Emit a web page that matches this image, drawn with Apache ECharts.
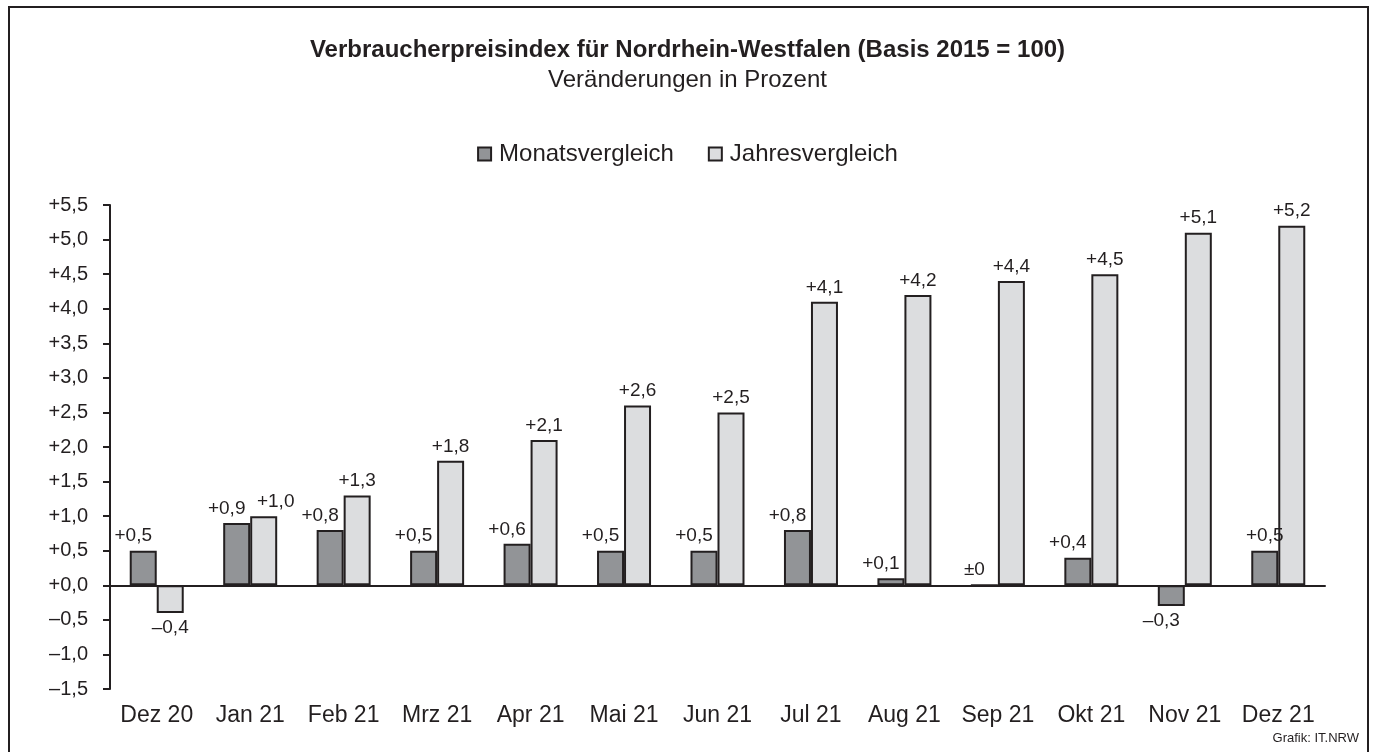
<!DOCTYPE html>
<html>
<head>
<meta charset="utf-8">
<script src="https://cdn.jsdelivr.net/npm/echarts@6/dist/echarts.min.js"></script>
<style>
  html, body { margin: 0; padding: 0; background: #fff; }
  #chart { width: 1375px; height: 752px; }
</style>
</head>
<body>
<div id="chart"></div>
<script>
// Monate
const categories = ['Dez 20', 'Jan 21', 'Feb 21', 'Mrz 21', 'Apr 21', 'Mai 21', 'Jun 21',
  'Jul 21', 'Aug 21', 'Sep 21', 'Okt 21', 'Nov 21', 'Dez 21'];
// Veränderung gegenüber Vormonat
const monatsvergleich = [0.5, 0.9, 0.8, 0.5, 0.6, 0.5, 0.5, 0.8, 0.1, 0, 0.4, -0.3, 0.5];
// Veränderung gegenüber Vorjahresmonat
const jahresvergleich = [-0.4, 1.0, 1.3, 1.8, 2.1, 2.6, 2.5, 4.1, 4.2, 4.4, 4.5, 5.1, 5.2];

const FONT = '"Liberation Sans", Arial, sans-serif';
const INK = '#231f20';

// +0,5 / –0,4 / ±0
function fmt(v, zeroText) {
  if (v === 0) return zeroText;
  const s = Math.abs(v).toFixed(1).replace('.', ',');
  return (v > 0 ? '+' : '\u2013') + s;
}

// Beschriftungen etwas seitlich versetzt, damit sie sich nicht ueberlappen
function labelShift(seriesIdx, i) {
  if (seriesIdx === 0) return i === 12 ? 0 : -10;
  return i === 1 ? 12 : 0;
}

function makeSeries(name, values, color, seriesIdx) {
  return {
    name: name,
    type: 'bar',
    barGap: '0%',
    barWidth: 27,
    itemStyle: { color: color, borderColor: INK, borderWidth: 2 },
    data: values.map((v, i) => ({
      value: v,
      label: { position: v < 0 ? 'bottom' : 'top', offset: [labelShift(seriesIdx, i), 0] }
    })),
    label: {
      show: true,
      distance: 5,
      color: INK,
      fontFamily: FONT,
      fontSize: 19,
      formatter: p => fmt(p.value, '\u00b10')
    }
  };
}

const chart = echarts.init(document.getElementById('chart'));
chart.setOption({
  animation: false,
  title: {
    text: 'Verbraucherpreisindex für Nordrhein-Westfalen (Basis 2015 = 100)',
    subtext: 'Veränderungen in Prozent',
    left: 'center',
    top: 33,
    itemGap: 6,
    textStyle: { fontFamily: FONT, fontSize: 24, fontWeight: 'bold', color: INK },
    subtextStyle: { fontFamily: FONT, fontSize: 24, color: INK }
  },
  legend: {
    top: 137,
    left: 'center',
    icon: 'rect',
    itemWidth: 13,
    itemHeight: 13,
    itemGap: 34,
    textStyle: { fontFamily: FONT, fontSize: 24, color: INK, padding: [0, 0, 0, 3] }
  },
  grid: { left: 110, right: 50, top: 205, bottom: 63 },
  xAxis: [
    {
      type: 'category',
      data: categories,
      axisLine: { onZero: true, lineStyle: { color: INK, width: 2 } },
      axisTick: { show: false },
      axisLabel: { show: false }
    },
    {
      type: 'category',
      data: categories,
      position: 'bottom',
      axisLine: { show: false },
      axisTick: { show: false },
      axisLabel: { margin: 15, fontFamily: FONT, fontSize: 23, color: INK, interval: 0 }
    }
  ],
  yAxis: {
    type: 'value',
    min: -1.5,
    max: 5.5,
    interval: 0.5,
    splitLine: { show: false },
    axisLine: { show: true, lineStyle: { color: INK, width: 2 } },
    axisTick: { show: true, length: 7, lineStyle: { color: INK, width: 2 } },
    axisLabel: {
      margin: 22,
      fontFamily: FONT,
      fontSize: 20,
      color: INK,
      formatter: v => fmt(v, '+0,0')
    }
  },
  series: [
    makeSeries('Monatsvergleich', monatsvergleich, '#929497', 0),
    makeSeries('Jahresvergleich', jahresvergleich, '#dcdddf', 1)
  ],
  graphic: [
    {
      type: 'rect',
      shape: { x: 9, y: 7, width: 1359, height: 760 },
      style: { fill: null, stroke: INK, lineWidth: 2 }
    },
    {
      type: 'text',
      right: 16,
      top: 732,
      style: { text: 'Grafik: IT.NRW', fontFamily: FONT, fontSize: 13, fill: INK }
    }
  ]
});
</script>
</body>
</html>
